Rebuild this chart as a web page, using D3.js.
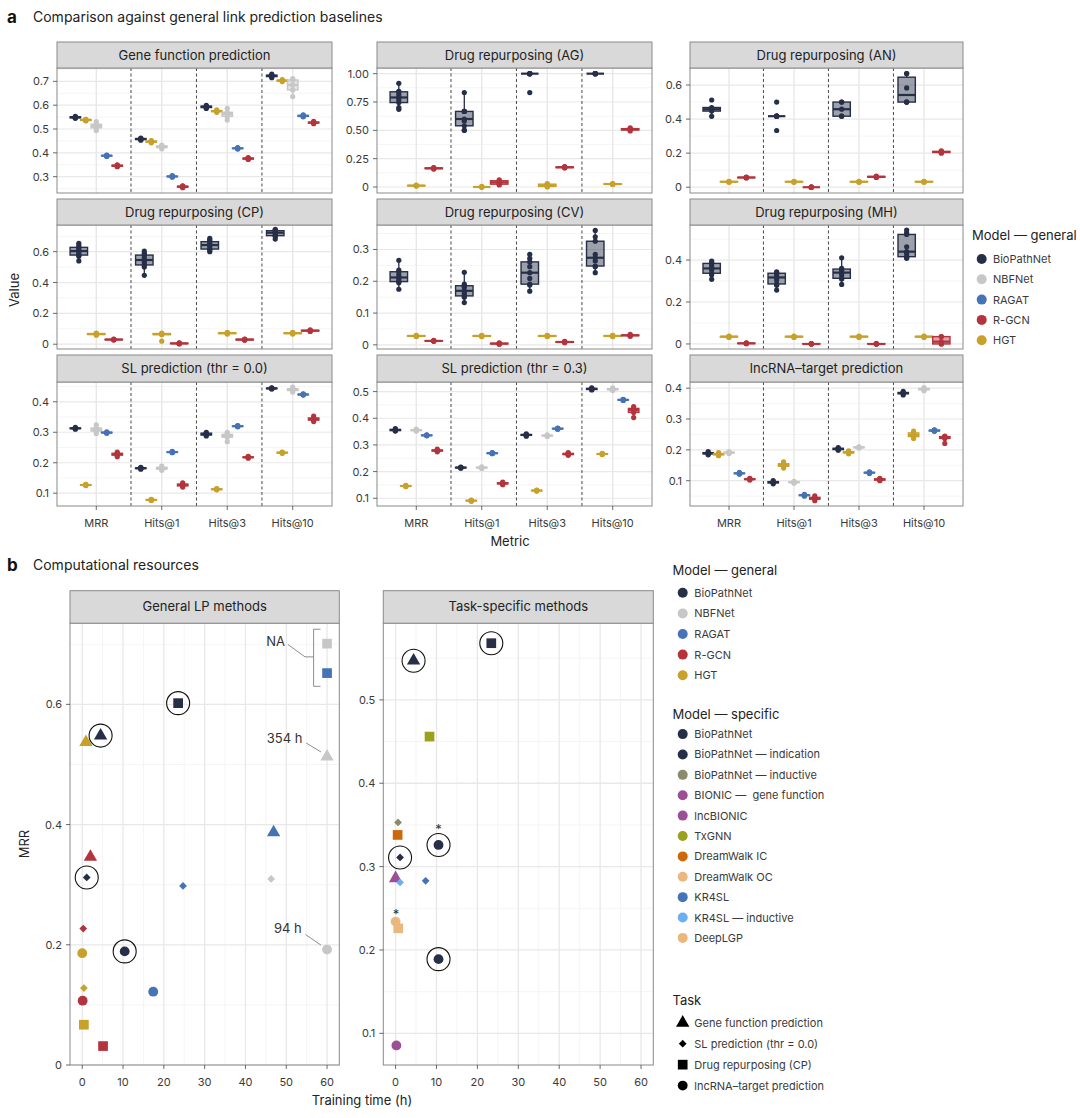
<!DOCTYPE html>
<html><head><meta charset="utf-8">
<script src="https://cdn.jsdelivr.net/npm/d3@7"></script>
<style>
body{margin:0;background:#fff;}
svg{font-family:Inter,"Noto Sans",sans-serif;}
</style></head><body>
<svg id="c" width="1080" height="1118"></svg>
<script>
// ---------------- DATA ----------------
const metrics = ["MRR","Hits@1","Hits@3","Hits@10"];
const dodgeOrder = ["BioPathNet","HGT","NBFNet","RAGAT","R-GCN"];
const legendGeneral = ["BioPathNet","NBFNet","RAGAT","R-GCN","HGT"];
const legendSpecific = ["BioPathNet","BioPathNet — indication","BioPathNet — inductive","BIONIC —  gene function","lncBIONIC","TxGNN","DreamWalk IC","DreamWalk OC","KR4SL","KR4SL — inductive","DeepLGP"];
const taskLegend = ["Gene function prediction","SL prediction (thr = 0.0)","Drug repurposing (CP)","lncRNA–target prediction"];
const taskTitles = ["Gene function prediction","Drug repurposing (AG)","Drug repurposing (AN)","Drug repurposing (CP)","Drug repurposing (CV)","Drug repurposing (MH)","SL prediction (thr = 0.0)","SL prediction (thr = 0.3)","lncRNA–target prediction"];

const geneFunction = [
 ["BioPathNet","MRR",[0.545,0.547,0.549,0.551,0.553]],
 ["HGT","MRR",[0.534,0.536,0.538,0.540,0.541]],
 ["NBFNet","MRR",[0.494,0.505,0.513,0.520,0.531]],
 ["RAGAT","MRR",[0.385,0.387,0.388,0.389,0.391]],
 ["R-GCN","MRR",[0.342,0.344,0.346,0.348,0.350]],
 ["BioPathNet","Hits@1",[0.453,0.456,0.458,0.460,0.462]],
 ["HGT","Hits@1",[0.442,0.445,0.447,0.449,0.451]],
 ["NBFNet","Hits@1",[0.417,0.422,0.426,0.429,0.433]],
 ["RAGAT","Hits@1",[0.298,0.300,0.301,0.302,0.304]],
 ["R-GCN","Hits@1",[0.254,0.256,0.258,0.260,0.262]],
 ["BioPathNet","Hits@3",[0.586,0.590,0.593,0.596,0.599]],
 ["HGT","Hits@3",[0.570,0.573,0.575,0.577,0.580]],
 ["NBFNet","Hits@3",[0.538,0.553,0.563,0.570,0.587]],
 ["RAGAT","Hits@3",[0.416,0.418,0.419,0.420,0.422]],
 ["R-GCN","Hits@3",[0.372,0.374,0.376,0.378,0.380]],
 ["BioPathNet","Hits@10",[0.715,0.720,0.723,0.726,0.730]],
 ["HGT","Hits@10",[0.699,0.701,0.703,0.705,0.707]],
 ["NBFNet","Hits@10",[0.636,0.664,0.685,0.706,0.712]],
 ["RAGAT","Hits@10",[0.551,0.553,0.555,0.557,0.559]],
 ["R-GCN","Hits@10",[0.522,0.525,0.527,0.529,0.532]]
];
const drugAG = [
 ["BioPathNet","MRR",[0.685,0.70,0.745,0.77,0.79,0.815,0.84,0.845,0.915]],
 ["HGT","MRR",[0.008,0.010,0.012,0.014,0.016]],
 ["R-GCN","MRR",[0.158,0.162,0.165,0.168,0.172]],
 ["BioPathNet","Hits@1",[0.5,0.5,0.54,0.583,0.6,0.667,0.667,0.667,0.833]],
 ["HGT","Hits@1",[0,0,0,0,0.005]],
 ["R-GCN","Hits@1",[0.018,0.025,0.041,0.055,0.062]],
 ["BioPathNet","Hits@3",[0.833,1,1,1,1,1]],
 ["HGT","Hits@3",[0,0.005,0.012,0.025,0.03]],
 ["R-GCN","Hits@3",[0.168,0.171,0.174,0.177,0.180]],
 ["BioPathNet","Hits@10",[1,1,1,1,1]],
 ["HGT","Hits@10",[0.022,0.024,0.026,0.028,0.030]],
 ["R-GCN","Hits@10",[0.495,0.503,0.509,0.515,0.522]]
];
const drugAN = [
 ["BioPathNet","MRR",[0.416,0.447,0.458,0.468,0.512]],
 ["HGT","MRR",[0.029,0.031,0.032,0.033,0.035]],
 ["R-GCN","MRR",[0.054,0.056,0.057,0.058,0.060]],
 ["BioPathNet","Hits@1",[0.333,0.417,0.417,0.417,0.417,0.5]],
 ["HGT","Hits@1",[0.029,0.031,0.032,0.033,0.035]],
 ["R-GCN","Hits@1",[0,0,0,0,0]],
 ["BioPathNet","Hits@3",[0.417,0.417,0.458,0.5,0.5]],
 ["HGT","Hits@3",[0.029,0.031,0.032,0.033,0.035]],
 ["R-GCN","Hits@3",[0.057,0.059,0.061,0.063,0.065]],
 ["BioPathNet","Hits@10",[0.5,0.5,0.5,0.583,0.667,0.667]],
 ["HGT","Hits@10",[0.029,0.031,0.032,0.033,0.035]],
 ["R-GCN","Hits@10",[0.200,0.204,0.207,0.210,0.214]]
];
const drugCP = [
 ["BioPathNet","MRR",[0.54,0.57,0.578,0.59,0.604,0.615,0.628,0.64,0.654]],
 ["HGT","MRR",[0.058,0.063,0.066,0.069,0.072]],
 ["R-GCN","MRR",[0.027,0.029,0.030,0.032,0.034]],
 ["BioPathNet","Hits@1",[0.447,0.50,0.514,0.53,0.546,0.56,0.578,0.59,0.604]],
 ["HGT","Hits@1",[0.02,0.062,0.066,0.069,0.072]],
 ["R-GCN","Hits@1",[0.002,0.004,0.005,0.007,0.009]],
 ["BioPathNet","Hits@3",[0.60,0.61,0.617,0.63,0.643,0.655,0.665,0.675,0.686]],
 ["HGT","Hits@3",[0.066,0.069,0.072,0.074,0.077]],
 ["R-GCN","Hits@3",[0.026,0.028,0.030,0.032,0.034]],
 ["BioPathNet","Hits@10",[0.682,0.70,0.704,0.715,0.723,0.73,0.736,0.74,0.745]],
 ["HGT","Hits@10",[0.066,0.069,0.072,0.074,0.077]],
 ["R-GCN","Hits@10",[0.083,0.086,0.088,0.090,0.093]]
];
const drugCV = [
 ["BioPathNet","MRR",[0.175,0.195,0.199,0.205,0.212,0.22,0.23,0.235,0.266]],
 ["HGT","MRR",[0.026,0.027,0.028,0.029,0.030]],
 ["R-GCN","MRR",[0.011,0.012,0.0125,0.013,0.014]],
 ["BioPathNet","Hits@1",[0.133,0.150,0.154,0.162,0.170,0.181,0.186,0.191,0.228]],
 ["HGT","Hits@1",[0.026,0.027,0.028,0.029,0.030]],
 ["R-GCN","Hits@1",[0.002,0.003,0.004,0.005,0.006]],
 ["BioPathNet","Hits@3",[0.169,0.188,0.191,0.209,0.227,0.246,0.261,0.272,0.285]],
 ["HGT","Hits@3",[0.026,0.027,0.028,0.029,0.030]],
 ["R-GCN","Hits@3",[0.007,0.008,0.009,0.010,0.011]],
 ["BioPathNet","Hits@10",[0.227,0.246,0.248,0.264,0.274,0.285,0.326,0.34,0.36]],
 ["HGT","Hits@10",[0.026,0.027,0.028,0.029,0.030]],
 ["R-GCN","Hits@10",[0.027,0.029,0.030,0.031,0.033]]
];
const drugMH = [
 ["BioPathNet","MRR",[0.308,0.33,0.337,0.352,0.36,0.371,0.384,0.388,0.395]],
 ["HGT","MRR",[0.031,0.033,0.035,0.036,0.038]],
 ["R-GCN","MRR",[0.001,0.002,0.003,0.004,0.005]],
 ["BioPathNet","Hits@1",[0.257,0.28,0.286,0.305,0.317,0.329,0.337,0.34,0.344]],
 ["HGT","Hits@1",[0.031,0.033,0.035,0.036,0.038]],
 ["R-GCN","Hits@1",[0,0,0,0.001,0.002]],
 ["BioPathNet","Hits@3",[0.284,0.31,0.313,0.329,0.34,0.352,0.357,0.36,0.411]],
 ["HGT","Hits@3",[0.031,0.033,0.035,0.036,0.038]],
 ["R-GCN","Hits@3",[0,0,0,0.001,0.002]],
 ["BioPathNet","Hits@10",[0.408,0.412,0.416,0.43,0.44,0.463,0.522,0.53,0.543]],
 ["HGT","Hits@10",[0.031,0.033,0.035,0.036,0.038]],
 ["R-GCN","Hits@10",[0,0,0.011,0.035,0.035]]
];
const slThr00 = [
 ["BioPathNet","MRR",[0.310,0.312,0.313,0.314,0.316]],
 ["HGT","MRR",[0.125,0.126,0.127,0.128,0.129]],
 ["NBFNet","MRR",[0.296,0.304,0.309,0.314,0.324]],
 ["RAGAT","MRR",[0.297,0.298,0.299,0.300,0.301]],
 ["R-GCN","MRR",[0.220,0.225,0.228,0.231,0.235]],
 ["BioPathNet","Hits@1",[0.179,0.181,0.182,0.183,0.185]],
 ["HGT","Hits@1",[0.076,0.077,0.078,0.079,0.080]],
 ["NBFNet","Hits@1",[0.175,0.179,0.182,0.185,0.189]],
 ["RAGAT","Hits@1",[0.233,0.234,0.235,0.236,0.237]],
 ["R-GCN","Hits@1",[0.120,0.124,0.127,0.130,0.134]],
 ["BioPathNet","Hits@3",[0.288,0.291,0.294,0.297,0.300]],
 ["HGT","Hits@3",[0.111,0.112,0.113,0.114,0.115]],
 ["NBFNet","Hits@3",[0.269,0.284,0.288,0.293,0.300]],
 ["RAGAT","Hits@3",[0.318,0.319,0.320,0.321,0.322]],
 ["R-GCN","Hits@3",[0.215,0.217,0.218,0.219,0.221]],
 ["BioPathNet","Hits@10",[0.442,0.443,0.444,0.445,0.446]],
 ["HGT","Hits@10",[0.231,0.232,0.233,0.234,0.235]],
 ["NBFNet","Hits@10",[0.432,0.437,0.440,0.443,0.448]],
 ["RAGAT","Hits@10",[0.422,0.423,0.424,0.425,0.426]],
 ["R-GCN","Hits@10",[0.335,0.340,0.343,0.347,0.353]]
];
const slThr03 = [
 ["BioPathNet","MRR",[0.352,0.354,0.356,0.358,0.361]],
 ["HGT","MRR",[0.144,0.145,0.146,0.147,0.148]],
 ["NBFNet","MRR",[0.352,0.354,0.356,0.357,0.359]],
 ["RAGAT","MRR",[0.334,0.335,0.336,0.337,0.338]],
 ["R-GCN","MRR",[0.274,0.277,0.279,0.281,0.284]],
 ["BioPathNet","Hits@1",[0.213,0.214,0.215,0.216,0.217]],
 ["HGT","Hits@1",[0.089,0.090,0.091,0.092,0.093]],
 ["NBFNet","Hits@1",[0.212,0.214,0.215,0.216,0.218]],
 ["RAGAT","Hits@1",[0.267,0.268,0.269,0.270,0.271]],
 ["R-GCN","Hits@1",[0.151,0.154,0.156,0.158,0.161]],
 ["BioPathNet","Hits@3",[0.333,0.336,0.3375,0.339,0.342]],
 ["HGT","Hits@3",[0.127,0.128,0.129,0.130,0.131]],
 ["NBFNet","Hits@3",[0.332,0.334,0.335,0.336,0.338]],
 ["RAGAT","Hits@3",[0.359,0.360,0.361,0.362,0.363]],
 ["R-GCN","Hits@3",[0.261,0.264,0.266,0.268,0.271]],
 ["BioPathNet","Hits@10",[0.506,0.508,0.510,0.512,0.514]],
 ["HGT","Hits@10",[0.264,0.265,0.266,0.267,0.268]],
 ["NBFNet","Hits@10",[0.504,0.507,0.509,0.511,0.514]],
 ["RAGAT","Hits@10",[0.467,0.468,0.469,0.470,0.471]],
 ["R-GCN","Hits@10",[0.4025,0.422,0.431,0.437,0.444]]
];
const lncTarget = [
 ["BioPathNet","MRR",[0.184,0.187,0.189,0.191,0.194]],
 ["HGT","MRR",[0.181,0.184,0.186,0.188,0.191]],
 ["NBFNet","MRR",[0.188,0.190,0.191,0.192,0.194]],
 ["RAGAT","MRR",[0.121,0.123,0.124,0.125,0.127]],
 ["R-GCN","MRR",[0.102,0.104,0.105,0.106,0.108]],
 ["BioPathNet","Hits@1",[0.090,0.093,0.095,0.097,0.100]],
 ["HGT","Hits@1",[0.141,0.147,0.151,0.155,0.161]],
 ["NBFNet","Hits@1",[0.092,0.094,0.095,0.096,0.098]],
 ["RAGAT","Hits@1",[0.050,0.052,0.053,0.054,0.056]],
 ["R-GCN","Hits@1",[0.035,0.040,0.043,0.046,0.051]],
 ["BioPathNet","Hits@3",[0.199,0.201,0.203,0.205,0.207]],
 ["HGT","Hits@3",[0.187,0.190,0.192,0.194,0.197]],
 ["NBFNet","Hits@3",[0.206,0.207,0.208,0.209,0.210]],
 ["RAGAT","Hits@3",[0.123,0.125,0.126,0.127,0.129]],
 ["R-GCN","Hits@3",[0.100,0.102,0.104,0.106,0.108]],
 ["BioPathNet","Hits@10",[0.378,0.382,0.384,0.386,0.390]],
 ["HGT","Hits@10",[0.237,0.243,0.248,0.255,0.261]],
 ["NBFNet","Hits@10",[0.392,0.395,0.397,0.399,0.402]],
 ["RAGAT","Hits@10",[0.260,0.261,0.2625,0.264,0.265]],
 ["R-GCN","Hits@10",[0.221,0.237,0.241,0.243,0.245]]
];

// y ticks and tick labels for each facet
const ticksGene=[0.3,0.4,0.5,0.6,0.7], labelsGene=["0.3","0.4","0.5","0.6","0.7"];
const ticksAG=[0,0.25,0.5,0.75,1], labelsAG=["0","0.25","0.50","0.75","1.00"];
const ticksAN=[0,0.2,0.4,0.6], labelsAN=["0","0.2","0.4","0.6"];
const ticksCP=[0,0.2,0.4,0.6], labelsCP=["0","0.2","0.4","0.6"];
const ticksCV=[0,0.1,0.2,0.3], labelsCV=["0","0.1","0.2","0.3"];
const ticksMH=[0,0.2,0.4], labelsMH=["0","0.2","0.4"];
const ticksSL0=[0.1,0.2,0.3,0.4], labelsSL0=["0.1","0.2","0.3","0.4"];
const ticksSL3=[0.1,0.2,0.3,0.4,0.5], labelsSL3=["0.1","0.2","0.3","0.4","0.5"];
const ticksLnc=[0.1,0.2,0.3,0.4], labelsLnc=["0.1","0.2","0.3","0.4"];

// Part b: [model, task, training time (h), MRR, circled]
const generalLP = [
 ["HGT","Gene function prediction",0.9,0.537,false],
 ["BioPathNet","Gene function prediction",4.5,0.548,true],
 ["R-GCN","Gene function prediction",2.0,0.346,false],
 ["RAGAT","Gene function prediction",46.9,0.387,false],
 ["NBFNet","Gene function prediction",60,0.513,false],
 ["BioPathNet","SL prediction (thr = 0.0)",1.1,0.312,true],
 ["R-GCN","SL prediction (thr = 0.0)",0.25,0.227,false],
 ["HGT","SL prediction (thr = 0.0)",0.4,0.128,false],
 ["RAGAT","SL prediction (thr = 0.0)",24.7,0.298,false],
 ["NBFNet","SL prediction (thr = 0.0)",46.3,0.3095,false],
 ["BioPathNet","Drug repurposing (CP)",23.5,0.602,true],
 ["HGT","Drug repurposing (CP)",0.4,0.067,false],
 ["R-GCN","Drug repurposing (CP)",5.1,0.0315,false],
 ["NBFNet","Drug repurposing (CP)",60,0.701,false],
 ["RAGAT","Drug repurposing (CP)",60,0.652,false],
 ["HGT","lncRNA–target prediction",0,0.186,false],
 ["BioPathNet","lncRNA–target prediction",10.4,0.189,true],
 ["RAGAT","lncRNA–target prediction",17.4,0.122,false],
 ["R-GCN","lncRNA–target prediction",0.1,0.107,false],
 ["NBFNet","lncRNA–target prediction",60,0.192,false]
];
const taskSpecific = [
 ["BioPathNet — indication","Drug repurposing (CP)",23.4,0.568,true],
 ["BioPathNet","Gene function prediction",4.4,0.547,true],
 ["TxGNN","Drug repurposing (CP)",8.3,0.456,false],
 ["BioPathNet — inductive","SL prediction (thr = 0.0)",0.6,0.353,false],
 ["DreamWalk IC","Drug repurposing (CP)",0.5,0.338,false],
 ["BioPathNet","lncRNA–target prediction",10.5,0.326,true],
 ["BioPathNet","SL prediction (thr = 0.0)",1.1,0.311,true],
 ["BIONIC —  gene function","Gene function prediction",0,0.286,false],
 ["KR4SL — inductive","SL prediction (thr = 0.0)",1.1,0.281,false],
 ["KR4SL","SL prediction (thr = 0.0)",7.35,0.283,false],
 ["DeepLGP","lncRNA–target prediction",0,0.234,false],
 ["DreamWalk OC","Drug repurposing (CP)",0.65,0.226,false],
 ["BioPathNet","lncRNA–target prediction",10.5,0.189,true],
 ["lncBIONIC","lncRNA–target prediction",0.2,0.0855,false]
];
const asterisks = [[10.5,0.347],[0.1,0.246]];
// capped-time annotations (label, text x, text y, line from, line to)
const cappedNotes = [
 ["354 h",49.6,0.5447,[[54.9,0.5357],[58.5,0.5208]]],
 ["94 h",50.4,0.2273,[[54.7,0.2172],[58.5,0.1995]]]
];
const naNote = ["NA",47.4,0.706];
const bTicksX=[0,10,20,30,40,50,60];
const bTicksLeft=[0,0.2,0.4,0.6], bLabelsLeft=["0","0.2","0.4","0.6"];
const bTicksRight=[0.1,0.2,0.3,0.4,0.5], bLabelsRight=["0.1","0.2","0.3","0.4","0.5"];

// ---------------- STYLE ----------------
const colors = {"BioPathNet":"#262e48","NBFNet":"#c7c7c7","RAGAT":"#4573b6","R-GCN":"#b3343c","HGT":"#c8a12b"};
const specColors = {"BioPathNet":"#262e48","BioPathNet — indication":"#262e48","BioPathNet — inductive":"#8b8a6d","BIONIC —  gene function":"#9c4f97","lncBIONIC":"#9c4f97","TxGNN":"#9ba11f","DreamWalk IC":"#cd6709","DreamWalk OC":"#eab87e","KR4SL":"#4573b6","KR4SL — inductive":"#6caff0","DeepLGP":"#eab87e"};
const GRID="#e8e8e8", GRIDMINOR="#f3f3f3", BORDER="#8a8a8a", STRIP="#d9d9d9", TICKTXT="#3a3a3a";

const svg=d3.select("#c");
function text(g,x,y,s,o={}){
  const t=g.append("text").attr("x",x).attr("y",y).text(s)
    .attr("font-size",o.size||11).attr("fill",o.fill||TICKTXT)
    .style("white-space","pre");
  if(o.anchor) t.attr("text-anchor",o.anchor);
  if(o.weight) t.attr("font-weight",o.weight);
  if(o.rot) t.attr("transform",`rotate(-90,${x},${y})`);
  return t;
}

// titles
text(svg,7,23,"a",{size:17,weight:700,fill:"#111"});
text(svg,33,22,"Comparison against general link prediction baselines",{size:14,fill:"#222"});
text(svg,7,571,"b",{size:17,weight:700,fill:"#111"});
text(svg,33,570,"Computational resources",{size:14,fill:"#222"});

// ---------------- PART A ----------------
const panelsA = [
 {data:geneFunction,ticks:ticksGene,labels:labelsGene,dom:[0.2315,0.756]},
 {data:drugAG,ticks:ticksAG,labels:labelsAG,dom:[-0.053,1.05]},
 {data:drugAN,ticks:ticksAN,labels:labelsAN,dom:[-0.034,0.70]},
 {data:drugCP,ticks:ticksCP,labels:labelsCP,dom:[-0.031,0.773]},
 {data:drugCV,ticks:ticksCV,labels:labelsCV,dom:[-0.013,0.377]},
 {data:drugMH,ticks:ticksMH,labels:labelsMH,dom:[-0.024,0.567]},
 {data:slThr00,ticks:ticksSL0,labels:labelsSL0,dom:[0.058,0.465]},
 {data:slThr03,ticks:ticksSL3,labels:labelsSL3,dom:[0.071,0.536]},
 {data:lncTarget,ticks:ticksLnc,labels:labelsLnc,dom:[0.018,0.420]}
];
const colX=[[57,332],[377,652],[690,963]];
const rowY=[{s:42,t:68,b:193},{s:199,t:225,b:349},{s:355,t:382,b:506}];

function boxStats(vals){
  const s=vals.slice().sort(d3.ascending);
  const q1=d3.quantileSorted(s,0.25), med=d3.quantileSorted(s,0.5), q3=d3.quantileSorted(s,0.75);
  const iqr=q3-q1, eps=1e-9;
  const lo=d3.min(s.filter(v=>v>=q1-1.5*iqr-eps)), hi=d3.max(s.filter(v=>v<=q3+1.5*iqr+eps));
  return {q1,med,q3,lo,hi,s};
}

panelsA.forEach((p,i)=>{
  const c=colX[i%3], r=rowY[Math.floor(i/3)];
  const x=d3.scaleLinear().domain([0.4,4.6]).range(c);
  const y=d3.scaleLinear().domain(p.dom).range([r.b,r.t]);
  const g=svg.append("g");
  g.append("rect").attr("x",c[0]).attr("y",r.t).attr("width",c[1]-c[0]).attr("height",r.b-r.t).attr("fill","#fff");
  // minor grid
  const step=p.ticks[1]-p.ticks[0];
  const minors=[];
  for(let k=-3;k<p.ticks.length+3;k++){const v=p.ticks[0]+step*(k+0.5); if(v>p.dom[0]&&v<p.dom[1]) minors.push(v);}
  g.selectAll(null).data(minors).join("line").attr("x1",c[0]).attr("x2",c[1]).attr("y1",d=>y(d)).attr("y2",d=>y(d)).attr("stroke",GRIDMINOR).attr("stroke-width",0.8);
  g.selectAll(null).data(p.ticks).join("line").attr("x1",c[0]).attr("x2",c[1]).attr("y1",d=>y(d)).attr("y2",d=>y(d)).attr("stroke",GRID).attr("stroke-width",1.2);
  g.selectAll(null).data([1,2,3,4]).join("line").attr("x1",d=>x(d)).attr("x2",d=>x(d)).attr("y1",r.t).attr("y2",r.b).attr("stroke",GRID).attr("stroke-width",1.4);
  // dividers
  g.selectAll(null).data([1.53,2.53,3.53]).join("line").attr("x1",d=>x(d)).attr("x2",d=>x(d)).attr("y1",r.t).attr("y2",r.b)
    .attr("stroke","#333").attr("stroke-width",0.9).attr("stroke-dasharray","3,2.5");
  // boxes
  const models=dodgeOrder.filter(m=>p.data.some(d=>d[0]===m));
  const n=models.length, slot=0.8/n, unit=x(1)-x(0);
  p.data.forEach(([m,met,vals])=>{
    const j=models.indexOf(m), cx=x(metrics.indexOf(met)+1 -0.4+slot*(j+0.5));
    const bw=slot*unit, col=colors[m], st=boxStats(vals);
    g.append("line").attr("x1",cx).attr("x2",cx).attr("y1",y(st.hi)).attr("y2",y(st.q3)).attr("stroke",col).attr("stroke-width",1.3);
    g.append("line").attr("x1",cx).attr("x2",cx).attr("y1",y(st.q1)).attr("y2",y(st.lo)).attr("stroke",col).attr("stroke-width",1.3);
    g.append("rect").attr("x",cx-bw/2).attr("width",bw).attr("y",y(st.q3)).attr("height",Math.max(0,y(st.q1)-y(st.q3)))
      .attr("fill",col).attr("fill-opacity",0.45).attr("stroke",col).attr("stroke-width",1.4);
    g.append("line").attr("x1",cx-bw/2).attr("x2",cx+bw/2).attr("y1",y(st.med)).attr("y2",y(st.med)).attr("stroke",col).attr("stroke-width",2.2);
    g.selectAll(null).data(st.s).join("circle").attr("cx",cx).attr("cy",d=>y(d)).attr("r",2.6).attr("fill",col);
  });
  // border
  g.append("rect").attr("x",c[0]).attr("y",r.t).attr("width",c[1]-c[0]).attr("height",r.b-r.t).attr("fill","none").attr("stroke",BORDER).attr("stroke-width",1);
  // strip
  g.append("rect").attr("x",c[0]).attr("y",r.s).attr("width",c[1]-c[0]).attr("height",r.t-r.s).attr("fill",STRIP).attr("stroke",BORDER).attr("stroke-width",1);
  text(g,(c[0]+c[1])/2,(r.s+r.t)/2+4.5,taskTitles[i],{size:13,anchor:"middle",fill:"#222"});
  // y axis
  g.selectAll(null).data(p.ticks).join("line").attr("x1",c[0]-4).attr("x2",c[0]).attr("y1",d=>y(d)).attr("y2",d=>y(d)).attr("stroke","#444").attr("stroke-width",0.8);
  p.ticks.forEach((t,k)=>text(g,c[0]-8,y(t)+4,p.labels[k],{anchor:"end"}));
  // x axis on bottom row
  if(Math.floor(i/3)===2){
    g.selectAll(null).data([1,2,3,4]).join("line").attr("x1",d=>x(d)).attr("x2",d=>x(d)).attr("y1",r.b).attr("y2",r.b+4).attr("stroke","#444").attr("stroke-width",0.8);
    metrics.forEach((m,k)=>text(g,x(k+1),r.b+20.5,m,{anchor:"middle"}));
  }
});
text(svg,19,290,"Value",{size:13,anchor:"middle",rot:true,fill:"#222"});
text(svg,510,546,"Metric",{size:13,anchor:"middle",fill:"#222"});

// legend a
{
  const g=svg.append("g");
  text(g,972,240,"Model — general",{size:13,fill:"#222"});
  legendGeneral.forEach((m,k)=>{
    const yy=259+k*20.3;
    g.append("circle").attr("cx",981.7).attr("cy",yy).attr("r",5).attr("fill",colors[m]);
    text(g,993,yy+4,m,{size:11});
  });
}

// ---------------- PART B ----------------
const diamond={draw(ctx,size){const s=Math.sqrt(size)/Math.SQRT2*1.0; const d=Math.sqrt(size*2)/2; ctx.moveTo(0,-d);ctx.lineTo(d,0);ctx.lineTo(0,d);ctx.lineTo(-d,0);ctx.closePath();}};
const shapeOf={"Gene function prediction":[d3.symbolTriangle,77],"SL prediction (thr = 0.0)":[diamond,30],"Drug repurposing (CP)":[d3.symbolSquare,94],"lncRNA–target prediction":[d3.symbolCircle,76]};
const bTop=590.7, bPlotTop=623.2, bBottom=1065;
const bPanels=[
 {title:"General LP methods",c:[70,339.3],pts:generalLP,col:colors,dom:[0,0.735],ticks:bTicksLeft,labels:bTicksLeft.map((t,k)=>bLabelsLeft[k])},
 {title:"Task-specific methods",c:[383.3,653.3],pts:taskSpecific,col:specColors,dom:[0.062,0.592],ticks:bTicksRight,labels:bLabelsRight}
];
bPanels.forEach((p,pi)=>{
  const x=d3.scaleLinear().domain([-3,63]).range(p.c);
  const y=d3.scaleLinear().domain(p.dom).range([bBottom,bPlotTop]);
  const g=svg.append("g");
  const c=p.c;
  const step=p.ticks[1]-p.ticks[0];
  const minors=[];
  for(let k=-3;k<p.ticks.length+3;k++){const v=p.ticks[0]+step*(k+0.5); if(v>p.dom[0]&&v<p.dom[1]) minors.push(v);}
  const xminors=[5,15,25,35,45,55];
  g.selectAll(null).data(minors).join("line").attr("x1",c[0]).attr("x2",c[1]).attr("y1",d=>y(d)).attr("y2",d=>y(d)).attr("stroke",GRIDMINOR).attr("stroke-width",0.8);
  g.selectAll(null).data(xminors).join("line").attr("x1",d=>x(d)).attr("x2",d=>x(d)).attr("y1",bPlotTop).attr("y2",bBottom).attr("stroke",GRIDMINOR).attr("stroke-width",0.8);
  g.selectAll(null).data(p.ticks).join("line").attr("x1",c[0]).attr("x2",c[1]).attr("y1",d=>y(d)).attr("y2",d=>y(d)).attr("stroke",GRID).attr("stroke-width",1.3);
  g.selectAll(null).data(bTicksX).join("line").attr("x1",d=>x(d)).attr("x2",d=>x(d)).attr("y1",bPlotTop).attr("y2",bBottom).attr("stroke",GRID).attr("stroke-width",1.3);
  // annotations (left panel)
  if(pi===0){
    const ln="#808080";
    text(g,x(naNote[1]),y(naNote[2])+5,naNote[0],{size:13,anchor:"middle",fill:"#333"});
    const brX=56.7, capX=58.4;
    const path=d3.path();
    path.moveTo(x(capX),y(0.725)); path.lineTo(x(brX),y(0.725)); path.lineTo(x(brX),y(0.630)); path.lineTo(x(capX),y(0.630));
    path.moveTo(x(50.4),y(0.6995)); path.lineTo(x(54.6),y(0.679)); path.lineTo(x(brX),y(0.679));
    g.append("path").attr("d",path.toString()).attr("fill","none").attr("stroke",ln).attr("stroke-width",0.9);
    cappedNotes.forEach(([lab,tx,ty,seg])=>{
      text(g,x(tx),y(ty)+5,lab,{size:13,anchor:"middle",fill:"#333"});
      g.append("line").attr("x1",x(seg[0][0])).attr("y1",y(seg[0][1])).attr("x2",x(seg[1][0])).attr("y2",y(seg[1][1])).attr("stroke",ln).attr("stroke-width",0.9);
    });
  }
  // points
  p.pts.forEach(([m,task,t,v,circ])=>{
    const [sym,size]=shapeOf[task];
    g.append("path").attr("d",d3.symbol(sym,size)()).attr("transform",`translate(${x(t)},${y(v)})`).attr("fill",p.col[m]);
    if(circ) g.append("circle").attr("cx",x(t)).attr("cy",y(v)).attr("r",11.5).attr("fill","none").attr("stroke","#111").attr("stroke-width",1.1);
  });
  if(pi===1){
    asterisks.forEach(([t,v])=>text(g,x(t),y(v)+7,"*",{size:13,anchor:"middle",fill:"#333"}));
  }
  g.append("rect").attr("x",c[0]).attr("y",bPlotTop).attr("width",c[1]-c[0]).attr("height",bBottom-bPlotTop).attr("fill","none").attr("stroke",BORDER).attr("stroke-width",1);
  g.append("rect").attr("x",c[0]).attr("y",bTop).attr("width",c[1]-c[0]).attr("height",bPlotTop-bTop).attr("fill",STRIP).attr("stroke",BORDER).attr("stroke-width",1);
  text(g,(c[0]+c[1])/2,(bTop+bPlotTop)/2+4.5,p.title,{size:13,anchor:"middle",fill:"#222"});
  g.selectAll(null).data(p.ticks).join("line").attr("x1",c[0]-4).attr("x2",c[0]).attr("y1",d=>y(d)).attr("y2",d=>y(d)).attr("stroke","#444").attr("stroke-width",0.8);
  p.ticks.forEach((t,k)=>text(g,c[0]-8,y(t)+4,p.labels[k],{anchor:"end"}));
  g.selectAll(null).data(bTicksX).join("line").attr("x1",d=>x(d)).attr("x2",d=>x(d)).attr("y1",bBottom).attr("y2",bBottom+4).attr("stroke","#444").attr("stroke-width",0.8);
  bTicksX.forEach(t=>text(g,x(t),bBottom+20.5,String(t),{anchor:"middle"}));
});
text(svg,29,844,"MRR",{size:13,anchor:"middle",rot:true,fill:"#222"});
text(svg,362,1104.5,"Training time (h)",{size:13,anchor:"middle",fill:"#222"});

// legends b
{
  const g=svg.append("g");
  const cx=682.7, tx=694.3;
  text(g,672.5,574.5,"Model — general",{size:13,fill:"#222"});
  legendGeneral.forEach((m,k)=>{
    const yy=592.8+k*20.6;
    g.append("circle").attr("cx",cx).attr("cy",yy).attr("r",5).attr("fill",colors[m]);
    text(g,tx,yy+4,m,{size:11});
  });
  text(g,672.5,719,"Model — specific",{size:13,fill:"#222"});
  legendSpecific.forEach((m,k)=>{
    const yy=734.1+k*20.38;
    g.append("circle").attr("cx",cx).attr("cy",yy).attr("r",5).attr("fill",specColors[m]);
    text(g,tx,yy+4,m,{size:11});
  });
  text(g,672.5,1005,"Task",{size:13,fill:"#222"});
  taskLegend.forEach((tk,k)=>{
    const yy=1022.8+k*20.93;
    const [sym,size]=shapeOf[tk];
    g.append("path").attr("d",d3.symbol(sym,size)()).attr("transform",`translate(${cx},${yy})`).attr("fill","#000");
    text(g,tx,yy+4,tk,{size:11});
  });
}
</script></body></html>
